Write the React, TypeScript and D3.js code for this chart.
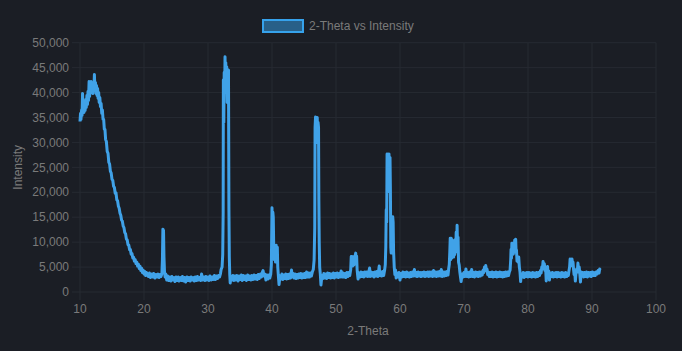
import { useEffect, useRef } from 'react';
import * as d3 from 'd3';

type Pt = [number, number];

// 2-theta (deg), intensity (counts)
const humpRegion: Pt[] = [
  [10.0, 34200], [10.08, 35800], [10.15, 34600], [10.25, 36500], [10.32, 35400], [10.4, 39800], [10.47, 36200],
  [10.55, 37800], [10.62, 36000], [10.7, 37600], [10.8, 36400], [10.9, 38600], [10.98, 37000], [11.08, 39400],
  [11.17, 37600], [11.25, 40200], [11.33, 38400], [11.42, 42200], [11.5, 39200], [11.58, 42000], [11.66, 40000],
  [11.75, 42200], [11.83, 40200], [11.92, 41800], [12.0, 39800], [12.08, 41600], [12.17, 40400], [12.25, 43600],
  [12.33, 40600], [12.42, 42000], [12.5, 39800], [12.58, 41400], [12.67, 39400], [12.75, 40800], [12.83, 38800],
  [12.92, 40000], [13.0, 38000], [13.1, 39000], [13.2, 37200], [13.3, 37800], [13.4, 35800], [13.5, 36500],
  [13.6, 34600], [13.7, 34600], [13.8, 32600], [13.9, 32600], [14.0, 30600], [14.12, 30200], [14.25, 28200],
  [14.38, 27800], [14.5, 26000], [14.62, 25700], [14.75, 24200], [14.87, 23900], [15.0, 22600], [15.12, 22400],
  [15.25, 21200], [15.37, 21000], [15.5, 19800], [15.62, 19900], [15.75, 18500], [15.87, 18300], [16.0, 17200],
  [16.12, 16800], [16.25, 15800], [16.37, 15400], [16.5, 14400], [16.62, 14200], [16.75, 13200], [16.87, 12900],
  [17.0, 11900], [17.12, 11700], [17.25, 10600], [17.37, 10500], [17.5, 9500], [17.62, 9400], [17.75, 8500],
  [17.87, 8500], [18.0, 7600], [18.12, 7700], [18.25, 6800], [18.37, 7000], [18.5, 6200], [18.62, 6500],
  [18.75, 5700], [18.87, 6000], [19.0, 5200], [19.12, 5600], [19.25, 4700], [19.37, 5200], [19.5, 4300],
  [19.62, 4800], [19.75, 3900], [19.87, 4400], [20.0, 3600], [20.12, 4100], [20.25, 3300], [20.37, 3900],
];

const region20to33: Pt[] = [
  [20.5, 3600], [20.7, 3100], [20.85, 3800], [21.0, 2900], [21.2, 3600], [21.35, 3000], [21.5, 3700], [21.7, 2800],
  [21.85, 3500], [22.0, 3000], [22.2, 3600], [22.35, 2900], [22.5, 3500], [22.65, 3100],
  [22.8, 3700], [22.88, 6500], [22.95, 12600], [23.05, 12300], [23.12, 7000], [23.2, 4200], [23.3, 3000], [23.4, 3600],
  [23.55, 2400], [23.7, 3200], [23.85, 2300], [24.0, 3000], [24.2, 2200], [24.35, 3100], [24.5, 2400], [24.7, 2900],
  [24.85, 2100], [25.0, 3000], [25.2, 2300], [25.35, 3000], [25.5, 2200], [25.7, 2900], [25.85, 2300], [26.0, 3100],
  [26.2, 2200], [26.35, 2900], [26.5, 2000], [26.7, 3000], [26.85, 2300], [27.0, 2900], [27.2, 2200], [27.35, 3000],
  [27.5, 2400], [27.7, 2900], [27.85, 2200], [28.0, 3000], [28.2, 2300], [28.35, 3100], [28.5, 2400], [28.7, 2900],
  [28.85, 2300], [29.0, 3600], [29.15, 2400], [29.3, 3000], [29.5, 2300], [29.65, 3100], [29.8, 2400], [30.0, 3000],
  [30.15, 2300], [30.3, 3200], [30.5, 2400], [30.65, 3000], [30.8, 2500], [31.0, 3300], [31.15, 2500], [31.3, 3200],
  [31.5, 2700], [31.65, 3300], [31.8, 3000], [31.95, 3700], [32.05, 4500], [32.2, 5000], [32.3, 7500],
  [32.37, 16000], [32.4, 42500], [32.47, 34000], [32.53, 44000], [32.6, 40000], [32.66, 47200], [32.72, 41000],
  [32.78, 46000], [32.85, 40000], [32.92, 45200], [33.0, 38000], [33.07, 44600], [33.13, 40000], [33.2, 44500],
  [33.27, 16500], [33.33, 7000], [33.4, 3500], [33.47, 1800], [33.6, 3200],
];

const region34to47: Pt[] = [
  [33.75, 2400], [33.9, 3300], [34.05, 2300], [34.2, 3200], [34.35, 2400], [34.5, 3300], [34.7, 2200], [34.85, 3200],
  [35.0, 2500], [35.2, 3400], [35.35, 2300], [35.5, 3300], [35.7, 2500], [35.85, 3200], [36.0, 2300], [36.2, 3400],
  [36.35, 2500], [36.5, 3200], [36.7, 2400], [36.85, 3300], [37.0, 2500], [37.2, 3400], [37.35, 2600], [37.5, 3300],
  [37.7, 2500], [37.85, 3500], [38.0, 2700], [38.2, 3600], [38.35, 3000], [38.5, 4000], [38.6, 4300], [38.75, 3200],
  [38.9, 3600], [39.05, 2400], [39.2, 3400], [39.35, 2600], [39.5, 3400], [39.65, 2800],
  [39.8, 3600], [39.9, 5500], [40.0, 16900], [40.07, 12000], [40.13, 16000], [40.2, 15000], [40.27, 9000],
  [40.35, 6500], [40.45, 8000], [40.55, 6000], [40.65, 9400], [40.75, 7500], [40.83, 9000], [40.9, 5000],
  [41.0, 3200], [41.1, 1500], [41.25, 3200],
  [41.4, 2600], [41.55, 3600], [41.7, 2500], [41.85, 3400], [42.0, 2700], [42.15, 3600], [42.3, 2600], [42.45, 3500],
  [42.6, 2700], [42.75, 3600], [42.9, 2800], [43.05, 4400], [43.15, 3000], [43.3, 3700], [43.45, 2800], [43.6, 3600],
  [43.75, 2700], [43.9, 3500], [44.05, 2800], [44.2, 3600], [44.35, 2900], [44.5, 3700], [44.65, 2800], [44.8, 3600],
  [44.95, 2900], [45.1, 3700], [45.25, 2900], [45.4, 4000], [45.55, 3000], [45.7, 3800], [45.85, 3000], [46.0, 3800],
  [46.15, 3200], [46.3, 4000], [46.45, 4500],
  [46.58, 6400], [46.68, 13000], [46.73, 33000], [46.8, 35100], [46.87, 30000], [46.93, 34500], [47.0, 31000],
  [47.07, 35000], [47.13, 30000], [47.2, 34000], [47.27, 33000], [47.32, 18500], [47.38, 10000], [47.45, 5000],
  [47.55, 3600], [47.65, 1400], [47.8, 3300],
];

const region48to60: Pt[] = [
  [47.95, 2700], [48.1, 3700], [48.25, 2800], [48.4, 3600], [48.55, 2700], [48.7, 3800], [48.85, 2900], [49.0, 3700],
  [49.15, 2800], [49.3, 3600], [49.45, 2900], [49.6, 3800], [49.75, 2800], [49.9, 3700], [50.05, 3000], [50.2, 3800],
  [50.35, 2900], [50.5, 3700], [50.65, 3000], [50.8, 4200], [50.95, 3000], [51.1, 3800], [51.25, 3000], [51.4, 3700],
  [51.55, 2900], [51.7, 3900], [51.85, 3100], [52.0, 3900], [52.15, 3300],
  [52.3, 4500], [52.38, 7100], [52.45, 5500], [52.52, 7100], [52.6, 5200], [52.68, 7000], [52.76, 5400],
  [52.84, 7100], [52.92, 5600], [53.0, 7300], [53.08, 7800], [53.15, 6000], [53.22, 7200], [53.3, 4500],
  [53.38, 3400], [53.45, 2600],
  [53.6, 3800], [53.75, 3000], [53.9, 4000], [54.05, 3100], [54.2, 3900], [54.35, 3000], [54.5, 4000], [54.65, 3200],
  [54.8, 4000], [54.95, 3100], [55.1, 3900], [55.25, 4800], [55.35, 3100], [55.5, 4000], [55.65, 3200], [55.8, 3900],
  [55.95, 3000], [56.1, 4000], [56.25, 3200], [56.4, 4100], [56.55, 3100], [56.75, 5200], [56.85, 3300], [57.0, 4000],
  [57.15, 3200], [57.3, 4100], [57.45, 3300], [57.6, 4400],
  [57.7, 5500], [57.78, 9000], [57.85, 16500], [57.92, 14000], [57.98, 27700], [58.05, 20000], [58.12, 27500],
  [58.2, 22000], [58.28, 27700], [58.36, 21000], [58.44, 27000], [58.5, 20500], [58.56, 9000], [58.62, 7800],
  [58.7, 12000], [58.78, 8500], [58.86, 15100], [58.93, 14000], [59.0, 8000], [59.1, 5000], [59.2, 3500],
  [59.3, 4400], [59.4, 2800],
];

const region60to74: Pt[] = [
  [59.55, 3800], [59.7, 3000], [59.85, 3900], [60.0, 2400], [60.15, 3700], [60.3, 3000], [60.45, 4000], [60.6, 3100],
  [60.75, 3900], [60.9, 3000], [61.05, 4000], [61.2, 3100], [61.35, 3800], [61.5, 3000], [61.65, 3900], [61.8, 3100],
  [61.95, 4000], [62.1, 3200], [62.25, 4500], [62.4, 3200], [62.55, 3900], [62.7, 3100], [62.85, 4000], [63.0, 3200],
  [63.15, 3900], [63.3, 3100], [63.45, 3900], [63.6, 3200], [63.75, 4000], [63.9, 3100], [64.05, 3900], [64.2, 3200],
  [64.35, 4000], [64.5, 3100], [64.65, 4000], [64.8, 3200], [64.95, 4000], [65.1, 3100], [65.25, 4300], [65.4, 3200],
  [65.55, 4000], [65.7, 3100], [65.85, 4000], [66.0, 3200], [66.15, 4100], [66.3, 3200], [66.45, 4500], [66.6, 3100],
  [66.75, 4000], [66.9, 3200], [67.05, 4000], [67.2, 3300], [67.35, 4100], [67.5, 3400],
  [67.6, 4600], [67.7, 5500], [67.78, 8000], [67.85, 10800], [67.92, 6500], [68.0, 10800], [68.07, 6800],
  [68.15, 10500], [68.22, 7500], [68.3, 9100], [68.38, 7000], [68.46, 9200], [68.54, 7500], [68.62, 10500],
  [68.7, 8000], [68.78, 12000], [68.85, 8500], [68.92, 13400], [69.0, 9000], [69.07, 11000], [69.15, 6000],
  [69.25, 5400], [69.35, 4000], [69.45, 3000], [69.55, 2100], [69.7, 3600],
  [69.85, 3000], [70.0, 3900], [70.15, 3100], [70.3, 4600], [70.45, 3100], [70.6, 3900], [70.75, 3000], [70.9, 4000],
  [71.05, 3100], [71.2, 4500], [71.35, 3100], [71.5, 3900], [71.65, 3000], [71.8, 4000], [71.95, 3200], [72.1, 3900],
  [72.25, 3100], [72.4, 4000], [72.55, 3200], [72.7, 4000], [72.85, 3400],
  [73.0, 4400], [73.1, 3900], [73.2, 5000], [73.3, 4600], [73.4, 5300], [73.5, 4300], [73.6, 4600], [73.7, 3500],
  [73.8, 4000],
];

const region74to92: Pt[] = [
  [73.95, 3100], [74.1, 3900], [74.25, 3100], [74.4, 4000], [74.55, 3000], [74.7, 3900], [74.85, 3100], [75.0, 4000],
  [75.15, 3000], [75.3, 3900], [75.45, 3100], [75.6, 4000], [75.75, 3100], [75.9, 3900], [76.05, 3000], [76.2, 3900],
  [76.35, 3100], [76.5, 4000], [76.65, 3200], [76.8, 4000], [76.95, 3300], [77.1, 4100],
  [77.2, 4400], [77.3, 6500], [77.35, 8500], [77.42, 6800], [77.48, 9800], [77.55, 7500], [77.62, 9800],
  [77.7, 7600], [77.78, 9600], [77.85, 8000], [77.92, 10400], [78.0, 8200], [78.07, 10600], [78.13, 8400],
  [78.2, 8400], [78.28, 6200], [78.36, 7100], [78.45, 6000], [78.55, 7000], [78.65, 5000], [78.75, 4000],
  [78.85, 2100], [78.95, 3600],
  [79.1, 3000], [79.25, 3900], [79.4, 2900], [79.55, 3800], [79.7, 3100], [79.85, 3900], [80.0, 3000], [80.15, 3900],
  [80.3, 3100], [80.45, 3800], [80.6, 3000], [80.75, 3900], [80.9, 3100], [81.05, 3800], [81.2, 3000], [81.35, 3900],
  [81.5, 3100], [81.65, 3900], [81.8, 3300],
  [81.95, 4300], [82.05, 3800], [82.15, 5000], [82.25, 4600], [82.35, 6100], [82.45, 5200], [82.55, 5700],
  [82.65, 4300], [82.75, 5000], [82.85, 2200], [82.95, 4600], [83.05, 5100], [83.15, 3400], [83.25, 4200],
  [83.35, 2400], [83.5, 3800],
  [83.65, 3100], [83.8, 3900], [83.95, 3000], [84.1, 3800], [84.25, 3100], [84.4, 3900], [84.55, 3000], [84.7, 3900],
  [84.85, 3100], [85.0, 3800], [85.15, 3000], [85.3, 3900], [85.45, 3100], [85.6, 3800], [85.75, 3000], [85.9, 3900],
  [86.05, 3100], [86.2, 3800], [86.3, 3300],
  [86.4, 4200], [86.5, 5000], [86.58, 6600], [86.65, 5200], [86.72, 6500], [86.8, 5300], [86.88, 6600],
  [86.95, 5400], [87.03, 6000], [87.12, 4500], [87.2, 3500], [87.3, 4200], [87.4, 2200], [87.5, 3800],
  [87.6, 4600], [87.7, 4000], [87.8, 5800], [87.9, 4500], [88.0, 5000], [88.1, 3600], [88.2, 2000], [88.3, 4000],
  [88.4, 3200],
  [88.55, 3900], [88.7, 3000], [88.85, 3900], [89.0, 3100], [89.15, 4000], [89.3, 3000], [89.45, 3900], [89.6, 3200],
  [89.75, 3900], [89.9, 3100], [90.05, 4000], [90.2, 3300], [90.35, 3900], [90.5, 3300], [90.65, 4000], [90.8, 3600],
  [90.95, 4300], [91.1, 3800], [91.2, 4600], [91.3, 4400],
];

const xTicks = [10, 20, 30, 40, 50, 60, 70, 80, 90, 100];
const yTicks = [0, 5000, 10000, 15000, 20000, 25000, 30000, 35000, 40000, 45000, 50000];
const seriesLabel = '2-Theta vs Intensity';

const WIDTH = 682;
const HEIGHT = 351;
const FONT = '"Liberation Sans", Arial, Helvetica, sans-serif';

const App = () => {
  const svgRef = useRef<SVGSVGElement | null>(null);

  useEffect(() => {
    const margin = { top: 42.7, right: 26, bottom: 59, left: 80 };
    const svg = d3.select(svgRef.current);
    svg.selectAll('*').remove();

    const data = [...humpRegion, ...region20to33, ...region34to47, ...region48to60, ...region60to74, ...region74to92];

    const x = d3.scaleLinear().domain([10, 100]).range([margin.left, WIDTH - margin.right]);
    const y = d3.scaleLinear().domain([0, 50000]).range([HEIGHT - margin.bottom, margin.top]);

    const gridColor = '#262a32';
    const textColor = '#7a7a7a';

    // grid
    svg.append('g')
      .selectAll('line')
      .data(yTicks)
      .enter().append('line')
      .attr('x1', margin.left - 8)
      .attr('x2', WIDTH - margin.right)
      .attr('y1', d => y(d))
      .attr('y2', d => y(d))
      .attr('stroke', gridColor)
      .attr('stroke-width', 1);

    svg.append('g')
      .selectAll('line')
      .data(xTicks)
      .enter().append('line')
      .attr('x1', d => x(d))
      .attr('x2', d => x(d))
      .attr('y1', margin.top)
      .attr('y2', HEIGHT - margin.bottom + 8)
      .attr('stroke', gridColor)
      .attr('stroke-width', 1);

    // tick labels
    svg.append('g')
      .selectAll('text')
      .data(yTicks)
      .enter().append('text')
      .attr('x', margin.left - 11)
      .attr('y', d => y(d))
      .attr('dy', '0.35em')
      .attr('text-anchor', 'end')
      .style('font-family', FONT)
      .style('font-size', '12px')
      .style('fill', textColor)
      .text(d => d3.format(',')(d));

    svg.append('g')
      .selectAll('text')
      .data(xTicks)
      .enter().append('text')
      .attr('x', d => x(d))
      .attr('y', HEIGHT - margin.bottom + 21)
      .attr('text-anchor', 'middle')
      .style('font-family', FONT)
      .style('font-size', '12px')
      .style('fill', textColor)
      .text(d => d);

    // axis titles
    svg.append('text')
      .attr('x', (margin.left + WIDTH - margin.right) / 2)
      .attr('y', 335)
      .attr('text-anchor', 'middle')
      .style('font-family', FONT)
      .style('font-size', '12px')
      .style('fill', textColor)
      .text('2-Theta');

    svg.append('text')
      .attr('transform', `translate(22,${(margin.top + HEIGHT - margin.bottom) / 2}) rotate(-90)`)
      .attr('text-anchor', 'middle')
      .style('font-family', FONT)
      .style('font-size', '12px')
      .style('fill', textColor)
      .text('Intensity');

    // the scan
    const line = d3.line<Pt>()
      .x(d => x(d[0]))
      .y(d => y(d[1]));

    svg.append('path')
      .datum(data)
      .attr('d', line)
      .attr('fill', 'none')
      .attr('stroke', 'rgb(64,162,232)')
      .attr('stroke-width', 3)
      .attr('stroke-linejoin', 'round');

    // legend
    const legend = svg.append('g');
    legend.append('rect')
      .attr('x', 263)
      .attr('y', 20)
      .attr('width', 40)
      .attr('height', 12)
      .attr('fill', 'rgba(54,162,235,0.5)')
      .attr('stroke', 'rgb(54,162,235)')
      .attr('stroke-width', 2);
    legend.append('text')
      .attr('x', 309)
      .attr('y', 26)
      .attr('dy', '0.35em')
      .style('font-family', FONT)
      .style('font-size', '12px')
      .style('fill', textColor)
      .text(seriesLabel);
  }, []);

  return (
    <div style={{ position: 'fixed', left: 0, top: 0, width: WIDTH, height: HEIGHT, background: '#1b1e25' }}>
      <svg ref={svgRef} width={WIDTH} height={HEIGHT} style={{ display: 'block' }}></svg>
    </div>
  );
};

export default App;
